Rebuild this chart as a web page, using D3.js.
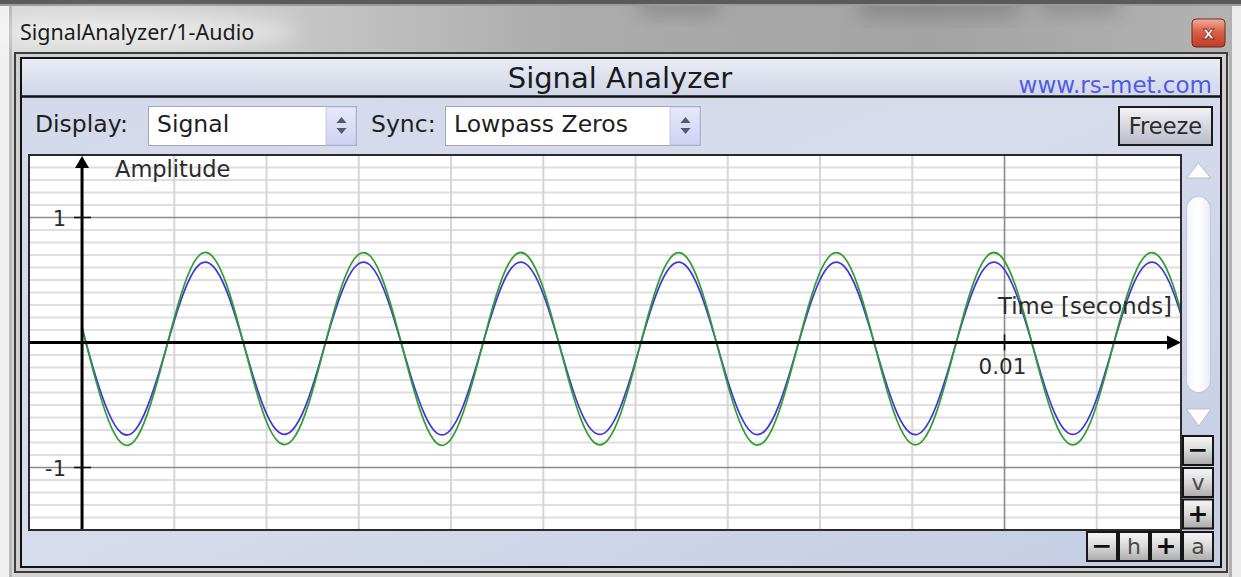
<!DOCTYPE html>
<html><head><meta charset="utf-8">
<script src="https://cdn.jsdelivr.net/npm/d3@7/dist/d3.min.js"></script>
<style>html,body{margin:0;padding:0;background:#d8d8d8;overflow:hidden}svg{display:block}</style>
</head><body><svg id="c" width="1241" height="577"></svg>
<script>
// ---------- text / labels ----------
const windowTitle = "SignalAnalyzer/1-Audio";
const panelTitle = "Signal Analyzer";
const siteLink = "www.rs-met.com";
const displayLabel = "Display:";
const displayValue = "Signal";
const syncLabel = "Sync:";
const syncValue = "Lowpass Zeros";
const freezeLabel = "Freeze";
const yAxisTitle = "Amplitude";
const xAxisTitle = "Time [seconds]";
const yTickValues = [1, -1];
const yTickLabels = ["1", "-1"];
const xTickValues = [0.01];
const xTickLabels = ["0.01"];
const xDomain = [-0.000575, 0.011913];   // seconds
const yDomain = [-1.5, 1.5];
const yGridStep = 0.1;
const xGridStep = 0.001;
// ---------- signals (sampled, uniform interval) ----------
const sampleInterval = 0.00014245; // seconds
const greenSignal = [
  0.126,-0.285,-0.620,-0.805,-0.786,-0.563,-0.208,0.190,0.524,0.705,0.680,0.463,
  0.108,-0.290,-0.624,-0.800,-0.780,-0.567,-0.212,0.186,0.520,0.701,0.684,0.467,
  0.112,-0.286,-0.621,-0.806,-0.784,-0.562,-0.209,0.189,0.523,0.704,0.681,0.464,
  0.109,-0.289,-0.623,-0.802,-0.781,-0.566,-0.211,0.187,0.521,0.702,0.683,0.466,
  0.111,-0.287,-0.622,-0.804,-0.783,-0.564,-0.210,0.188,0.522,0.703,0.682,0.465,
  0.110,-0.288,-0.620,-0.801,-0.782,-0.565,-0.209,0.189,0.523,0.704,0.681,0.464,
  0.111,-0.289,-0.623,-0.803,-0.781,-0.566,-0.211,0.187,0.521,0.702,0.683,0.466,
  0.110
];
const blueSignal = [
  0.110,-0.258,-0.558,-0.724,-0.706,-0.507,-0.190,0.168,0.467,0.630,0.607,0.413,
  0.096,-0.262,-0.561,-0.720,-0.701,-0.511,-0.193,0.165,0.465,0.627,0.610,0.416,
  0.098,-0.259,-0.559,-0.725,-0.704,-0.508,-0.190,0.167,0.467,0.629,0.608,0.414,
  0.097,-0.261,-0.562,-0.721,-0.702,-0.510,-0.192,0.166,0.465,0.628,0.609,0.415,
  0.098,-0.260,-0.560,-0.723,-0.703,-0.509,-0.191,0.166,0.466,0.628,0.609,0.415,
  0.097,-0.259,-0.559,-0.722,-0.704,-0.508,-0.190,0.167,0.467,0.629,0.608,0.414,
  0.096,-0.261,-0.561,-0.721,-0.702,-0.510,-0.192,0.165,0.465,0.627,0.610,0.416,
  0.097
];

const svg = d3.select("#c");
const defs = svg.append("defs");
const FONT = "'DejaVu Sans', Verdana, sans-serif";

function lin(id, x2, y2, stops) {
  const g = defs.append("linearGradient").attr("id", id)
    .attr("x1", 0).attr("y1", 0).attr("x2", x2).attr("y2", y2);
  stops.forEach(s => g.append("stop").attr("offset", s[0]).attr("stop-color", s[1]));
}
lin("gTitle", 1, 0, [[0, "#dadada"], [0.22, "#c9c9c9"], [0.45, "#acacac"], [0.75, "#a3a3a3"], [1, "#b3b3b3"]]);
lin("gHeader", 0, 1, [[0, "#e9ecf4"], [1, "#cfd6e8"]]);
lin("gPanel", 1, 1, [[0, "#d3d9ea"], [0.5, "#d6dcec"], [1, "#c4cce3"]]);
lin("gBtn", 0, 1, [[0, "#f6f6f6"], [0.5, "#d9d9d9"], [1, "#a9a9a9"]]);
lin("gFreeze", 0, 1, [[0, "#f3f4f7"], [1, "#b7bbc7"]]);
lin("gClose", 0, 1, [[0, "#eeb09c"], [0.45, "#dc6046"], [1, "#bb3e26"]]);
lin("gArrow", 0, 1, [[0, "#e6e8fb"], [1, "#cdd2f3"]]);
lin("gThumb", 1, 0, [[0, "#f4f6fa"], [0.5, "#ffffff"], [1, "#e9ecf3"]]);
defs.append("filter").attr("id", "blur8").attr("x", "-50%").attr("y", "-50%").attr("width", "200%").attr("height", "200%")
  .append("feGaussianBlur").attr("stdDeviation", 10);

// ---------- window chrome ----------
svg.append("rect").attr("width", 1241).attr("height", 577).attr("fill", "#d4d4d4");
svg.append("rect").attr("x", 0).attr("y", 0).attr("width", 1241).attr("height", 56).attr("fill", "url(#gTitle)");
// blurred background shapes seen through the glass
const blobs = svg.append("g").attr("filter", "url(#blur8)").attr("fill", "#404040").attr("opacity", 0.3);
[[640, -8, 80, 22], [860, -8, 160, 24], [1040, -8, 80, 20]].forEach(b =>
  blobs.append("rect").attr("x", b[0]).attr("y", b[1]).attr("width", b[2]).attr("height", b[3]));
svg.append("rect").attr("x", 0).attr("y", 0).attr("width", 1241).attr("height", 4).attr("fill", "#5a5a5a");
svg.append("rect").attr("x", 0).attr("y", 4).attr("width", 1241).attr("height", 2).attr("fill", "#9a9a9a");
// left/right outer glass edges
svg.append("rect").attr("x", 0).attr("y", 6).attr("width", 9).attr("height", 571).attr("fill", "#f0f0f0");
svg.append("rect").attr("x", 9).attr("y", 6).attr("width", 3).attr("height", 571).attr("fill", "#b8b8b8");
svg.append("rect").attr("x", 1232).attr("y", 6).attr("width", 9).attr("height", 571).attr("fill", "#ececec");
svg.append("rect").attr("x", 1229).attr("y", 6).attr("width", 3).attr("height", 571).attr("fill", "#b0b0b0");
// title text glow + text
svg.append("ellipse").attr("cx", 146).attr("cy", 32).attr("rx", 150).attr("ry", 16).attr("fill", "#ffffff").attr("opacity", 0.55).attr("filter", "url(#blur8)");
svg.append("text").attr("x", 20).attr("y", 40).attr("font-family", "'Noto Sans', 'Open Sans', sans-serif").attr("font-size", 21.5)
  .attr("fill", "#1b1b1b").text(windowTitle);
// close button
svg.append("rect").attr("x", 1192).attr("y", 19).attr("width", 33).attr("height", 28).attr("rx", 4)
  .attr("fill", "url(#gClose)").attr("stroke", "#6e2a1e").attr("stroke-width", 1);
svg.append("text").attr("x", 1208.5).attr("y", 39).attr("text-anchor", "middle").attr("font-family", FONT)
  .attr("font-weight", "bold").attr("font-size", 18).attr("fill", "#ffffff").attr("stroke", "#7a2a1e").attr("stroke-width", 0.8).text("x");

// frames
svg.append("rect").attr("x", 15).attr("y", 53).attr("width", 1212).attr("height", 519).attr("fill", "#cfcfcf").attr("stroke", "#3c3c3c").attr("stroke-width", 2);
svg.append("rect").attr("x", 21).attr("y", 58).attr("width", 1200).attr("height", 509).attr("fill", "url(#gPanel)").attr("stroke", "#111").attr("stroke-width", 2);
// header
svg.append("rect").attr("x", 22).attr("y", 59).attr("width", 1198).attr("height", 37).attr("fill", "url(#gHeader)");
svg.append("line").attr("x1", 22).attr("x2", 1220).attr("y1", 96.5).attr("y2", 96.5).attr("stroke", "#111").attr("stroke-width", 2.5);
svg.append("text").attr("x", 620).attr("y", 88).attr("text-anchor", "middle").attr("font-family", FONT)
  .attr("font-size", 29).attr("fill", "#1a1a1a").text(panelTitle);
svg.append("text").attr("x", 1212).attr("y", 93).attr("text-anchor", "end").attr("font-family", FONT)
  .attr("font-size", 23).attr("fill", "#4f5ce2").text(siteLink);

// ---------- controls row ----------
function label(x, y, t, size, anchor, color) {
  return svg.append("text").attr("x", x).attr("y", y).attr("text-anchor", anchor || "start")
    .attr("font-family", FONT).attr("font-size", size).attr("fill", color || "#1e1e1e").text(t);
}
label(35, 132, displayLabel, 23.5);
label(371, 132, syncLabel, 23.5);
function combo(x, w, t) {
  svg.append("rect").attr("x", x + 0.5).attr("y", 106.5).attr("width", w).attr("height", 39)
    .attr("fill", "#ffffff").attr("stroke", "#a3a8b6").attr("stroke-width", 1);
  svg.append("rect").attr("x", x + w - 30).attr("y", 107).attr("width", 30).attr("height", 38)
    .attr("fill", "url(#gArrow)").attr("stroke", "#b9bfe0").attr("stroke-width", 0.8);
  const cx = x + w - 14.5;
  svg.append("path").attr("d", `M${cx - 5},123 L${cx + 5},123 L${cx},117 Z M${cx - 5},128 L${cx + 5},128 L${cx},134 Z`).attr("fill", "#55586a");
  label(x + 9, 132, t, 23.5);
}
combo(148, 208, displayValue);
combo(445, 255, syncValue);
// freeze
svg.append("rect").attr("x", 1119).attr("y", 107).attr("width", 93).attr("height", 38)
  .attr("fill", "url(#gFreeze)").attr("stroke", "#1a1a1a").attr("stroke-width", 2);
label(1165.5, 134, freezeLabel, 22.5, "middle", "#2a2a2a");

// ---------- plot ----------
const P = { left: 29, top: 155, right: 1181, bottom: 530 };
const x = d3.scaleLinear().domain(xDomain).range([P.left, P.right]);
const y = d3.scaleLinear().domain(yDomain).range([P.bottom, P.top]);

svg.append("rect").attr("x", P.left).attr("y", P.top).attr("width", P.right - P.left).attr("height", P.bottom - P.top).attr("fill", "#ffffff");
defs.append("clipPath").attr("id", "plotClip").append("rect")
  .attr("x", P.left).attr("y", P.top).attr("width", P.right - P.left).attr("height", P.bottom - P.top);
const plot = svg.append("g").attr("clip-path", "url(#plotClip)");

// minor grid
const yMinor = d3.ticks(yDomain[0], yDomain[1], Math.round((yDomain[1] - yDomain[0]) / yGridStep));
plot.append("g").selectAll("line").data(yMinor.filter(v => Math.abs(v) > 1e-9 && Math.abs(Math.abs(v) - 1) > 1e-9)).join("line")
  .attr("x1", P.left).attr("x2", P.right).attr("y1", d => y(d)).attr("y2", d => y(d))
  .attr("stroke", "#dedede").attr("stroke-width", 2.2);
const xMinor = d3.ticks(0, xDomain[1], Math.round(xDomain[1] / xGridStep)).filter(v => v > 1e-9);
plot.append("g").selectAll("line").data(xMinor.filter(v => !xTickValues.some(t => Math.abs(t - v) < 1e-9))).join("line")
  .attr("x1", d => x(d)).attr("x2", d => x(d)).attr("y1", P.top).attr("y2", P.bottom)
  .attr("stroke", "#d6d6d6").attr("stroke-width", 2);
// major grid
plot.append("g").selectAll("line").data(yTickValues).join("line")
  .attr("x1", P.left).attr("x2", P.right).attr("y1", d => y(d)).attr("y2", d => y(d))
  .attr("stroke", "#8a8a8a").attr("stroke-width", 1.6);
plot.append("g").selectAll("line").data(xTickValues).join("line")
  .attr("x1", d => x(d)).attr("x2", d => x(d)).attr("y1", P.top).attr("y2", P.bottom)
  .attr("stroke", "#8a8a8a").attr("stroke-width", 1.6);

// axis titles (under signals)
label(115, 177, yAxisTitle, 22.5, "start", "#2b2b2b");
label(1172, 314, xAxisTitle, 22.8, "end", "#2b2b2b");

// axes
const x0 = x(0), y0 = y(0);
svg.append("line").attr("x1", x0).attr("x2", x0).attr("y1", P.top + 8).attr("y2", P.bottom).attr("stroke", "#000").attr("stroke-width", 3);
svg.append("path").attr("d", `M${x0},${P.top + 1} L${x0 + 7},${P.top + 13} L${x0 - 7},${P.top + 13} Z`).attr("fill", "#000");
svg.append("line").attr("x1", P.left).attr("x2", P.right - 8).attr("y1", y0).attr("y2", y0).attr("stroke", "#000").attr("stroke-width", 3);
svg.append("path").attr("d", `M${P.right},${y0} L${P.right - 14},${y0 - 7} L${P.right - 14},${y0 + 7} Z`).attr("fill", "#000");
// ticks
svg.append("g").selectAll("line").data(yTickValues).join("line")
  .attr("x1", x0 - 8).attr("x2", x0 + 9).attr("y1", d => y(d)).attr("y2", d => y(d)).attr("stroke", "#111").attr("stroke-width", 1.6);
svg.append("g").selectAll("line").data(xTickValues).join("line")
  .attr("x1", d => x(d)).attr("x2", d => x(d)).attr("y1", y0 - 8).attr("y2", y0 + 8).attr("stroke", "#111").attr("stroke-width", 1.6);
svg.append("g").selectAll("text").data(yTickValues).join("text")
  .attr("x", x0 - 16).attr("y", d => y(d) + 8).attr("text-anchor", "end")
  .attr("font-family", FONT).attr("font-size", 21).attr("fill", "#2b2b2b").text((d, i) => yTickLabels[i]);
svg.append("g").selectAll("text").data(xTickValues).join("text")
  .attr("x", d => x(d) - 2).attr("y", y0 + 31).attr("text-anchor", "middle")
  .attr("font-family", FONT).attr("font-size", 21.5).attr("fill", "#2b2b2b").text((d, i) => xTickLabels[i]);

// signals
const line = d3.line().x((d, i) => x(i * sampleInterval)).y(d => y(d)).curve(d3.curveNatural);
plot.append("path").datum(blueSignal).attr("d", line).attr("fill", "none").attr("stroke", "#4234dc").attr("stroke-width", 1.7);
plot.append("path").datum(greenSignal).attr("d", line).attr("fill", "none").attr("stroke", "#2f9e2f").attr("stroke-width", 1.7);

// plot border
svg.append("rect").attr("x", P.left).attr("y", P.top).attr("width", P.right - P.left).attr("height", P.bottom - P.top)
  .attr("fill", "none").attr("stroke", "#2a2a2a").attr("stroke-width", 2);

// ---------- scrollbar & zoom buttons ----------
svg.append("path").attr("d", "M1198.5,163 L1210.5,178 L1186.5,178 Z").attr("fill", "#ffffff").attr("stroke", "#b7bfcf").attr("stroke-width", 1);
svg.append("rect").attr("x", 1186.5).attr("y", 196.5).attr("width", 24).attr("height", 196).attr("rx", 12)
  .attr("fill", "url(#gThumb)").attr("stroke", "#c3c9d7").attr("stroke-width", 1.2);
svg.append("path").attr("d", "M1186.5,409 L1211,409 L1198.75,426 Z").attr("fill", "#ffffff").attr("stroke", "#b7bfcf").attr("stroke-width", 1);

function btn(bx, by, t, bold) {
  svg.append("rect").attr("x", bx).attr("y", by).attr("width", 30).attr("height", 29)
    .attr("fill", "url(#gBtn)").attr("stroke", "#161616").attr("stroke-width", 2);
  svg.append("text").attr("x", bx + 15).attr("y", by + 22).attr("text-anchor", "middle")
    .attr("font-family", FONT).attr("font-size", bold ? 25 : 22).attr("font-weight", bold ? "bold" : "normal")
    .attr("fill", bold ? "#111" : "#4a4a4a").text(t);
}
btn(1183, 436, "\u2212", true);
btn(1183, 468, "v", false);
btn(1183, 499.5, "+", true);
btn(1087, 532, "\u2212", true);
btn(1119, 532, "h", false);
btn(1151, 532, "+", true);
btn(1183, 532, "a", false);
</script></body></html>
